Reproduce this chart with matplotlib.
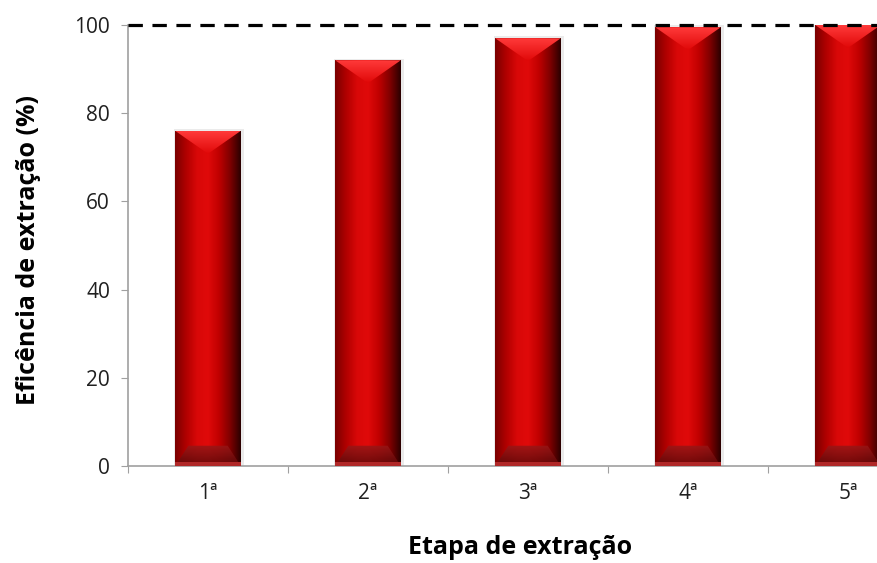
import numpy as np
import matplotlib
matplotlib.use("Agg")
import matplotlib.pyplot as plt
from matplotlib.colors import LinearSegmentedColormap
from matplotlib.patches import Rectangle, Polygon

plt.rcParams["font.family"] = ["Open Sans", "DejaVu Sans"]

etapas = ["1ª", "2ª", "3ª", "4ª", "5ª"]
eficiencia = [76, 92, 97, 99.5, 100]
limite = 100

# horizontal shading across each bar: dark left edge, bright middle, near-black right edge
body_cmap = LinearSegmentedColormap.from_list(
    "body", ["#7a0000", "#b00000", "#d80808", "#e00a0a", "#c00000", "#800000", "#2a0000"])
cap_cmap = LinearSegmentedColormap.from_list("cap", ["#e00808", "#ff3a3a"])
base_cmap = LinearSegmentedColormap.from_list("base", ["#5a0808", "#9a1818"])

fig = plt.figure(figsize=(8.77, 5.63), dpi=100)
ax = fig.add_axes([128 / 877, 97 / 563, 800 / 877, 441 / 563])

x = np.arange(len(etapas)) + 0.5
width = 0.41
top_depth = 5.2
base_depth = 4.6
grad = np.linspace(0, 1, 256).reshape(1, -1)
vgrad = np.linspace(0, 1, 64).reshape(-1, 1)

for xc, h in zip(x, eficiencia):
    x0, x1 = xc - width / 2, xc + width / 2
    # faint drop shadow
    ax.add_patch(Rectangle((x0 - 0.01, 0), width + 0.03, h + 0.4,
                           facecolor="#d8d8d8", edgecolor="none", alpha=0.5, zorder=1))
    clip = Rectangle((x0, 0), width, h, transform=ax.transData)
    im = ax.imshow(grad, cmap=body_cmap, extent=(x0, x1, 0, h),
                   aspect="auto", zorder=2, interpolation="bilinear")
    im.set_clip_path(clip)

    # bevelled top
    tri = Polygon([(x0, h), (x1, h), (xc, h - top_depth)], closed=True,
                  transform=ax.transData)
    cap = ax.imshow(vgrad, cmap=cap_cmap, extent=(x0, x1, h, h - top_depth),
                    aspect="auto", zorder=3, interpolation="bilinear")
    cap.set_clip_path(tri)

    # darker bevelled base
    trap = Polygon([(x0, 0), (x1, 0), (xc + width * 0.3, base_depth),
                    (xc - width * 0.3, base_depth)], closed=True, transform=ax.transData)
    base = ax.imshow(vgrad, cmap=base_cmap, extent=(x0, x1, base_depth, 0),
                     aspect="auto", zorder=3, interpolation="bilinear", alpha=0.85)
    base.set_clip_path(trap)
    ax.add_patch(Rectangle((x0, 0), width, 0.8, facecolor="#b02828",
                           edgecolor="none", zorder=4))

ax.axhline(limite, color="black", lw=2.3, ls=(0, (4.5, 3)), zorder=5, clip_on=False)

ax.set_xlim(0, 5)
ax.set_ylim(0, 100)
ax.set_xticks(np.arange(0, 6))
ax.set_xticklabels([])
ax.set_xticks(x, etapas, minor=True)
ax.tick_params(axis="x", which="major", length=5, color="#a0a0a0", direction="out")
ax.tick_params(axis="x", which="minor", length=0, pad=12, labelsize=15, labelcolor="#202020")
ax.set_yticks(np.arange(0, 101, 20))
ax.tick_params(axis="y", length=5, color="#a0a0a0", labelsize=15, pad=8, labelcolor="#202020")

for side in ("top", "right"):
    ax.spines[side].set_visible(False)
for side in ("left", "bottom"):
    ax.spines[side].set_color("#a0a0a0")
    ax.spines[side].set_linewidth(1.2)

ax.set_ylabel("Eficência de extração (%)", fontsize=18, fontweight="bold")
ax.yaxis.set_label_coords(-100 / 800, 0.49)
ax.set_xlabel("Etapa de extração", fontsize=18, fontweight="bold")
ax.xaxis.set_label_coords(392 / 800, -82 / 441)
ax.xaxis.label.set_verticalalignment("center")
ax.yaxis.label.set_verticalalignment("center")

fig.savefig("out.png", dpi=100)
